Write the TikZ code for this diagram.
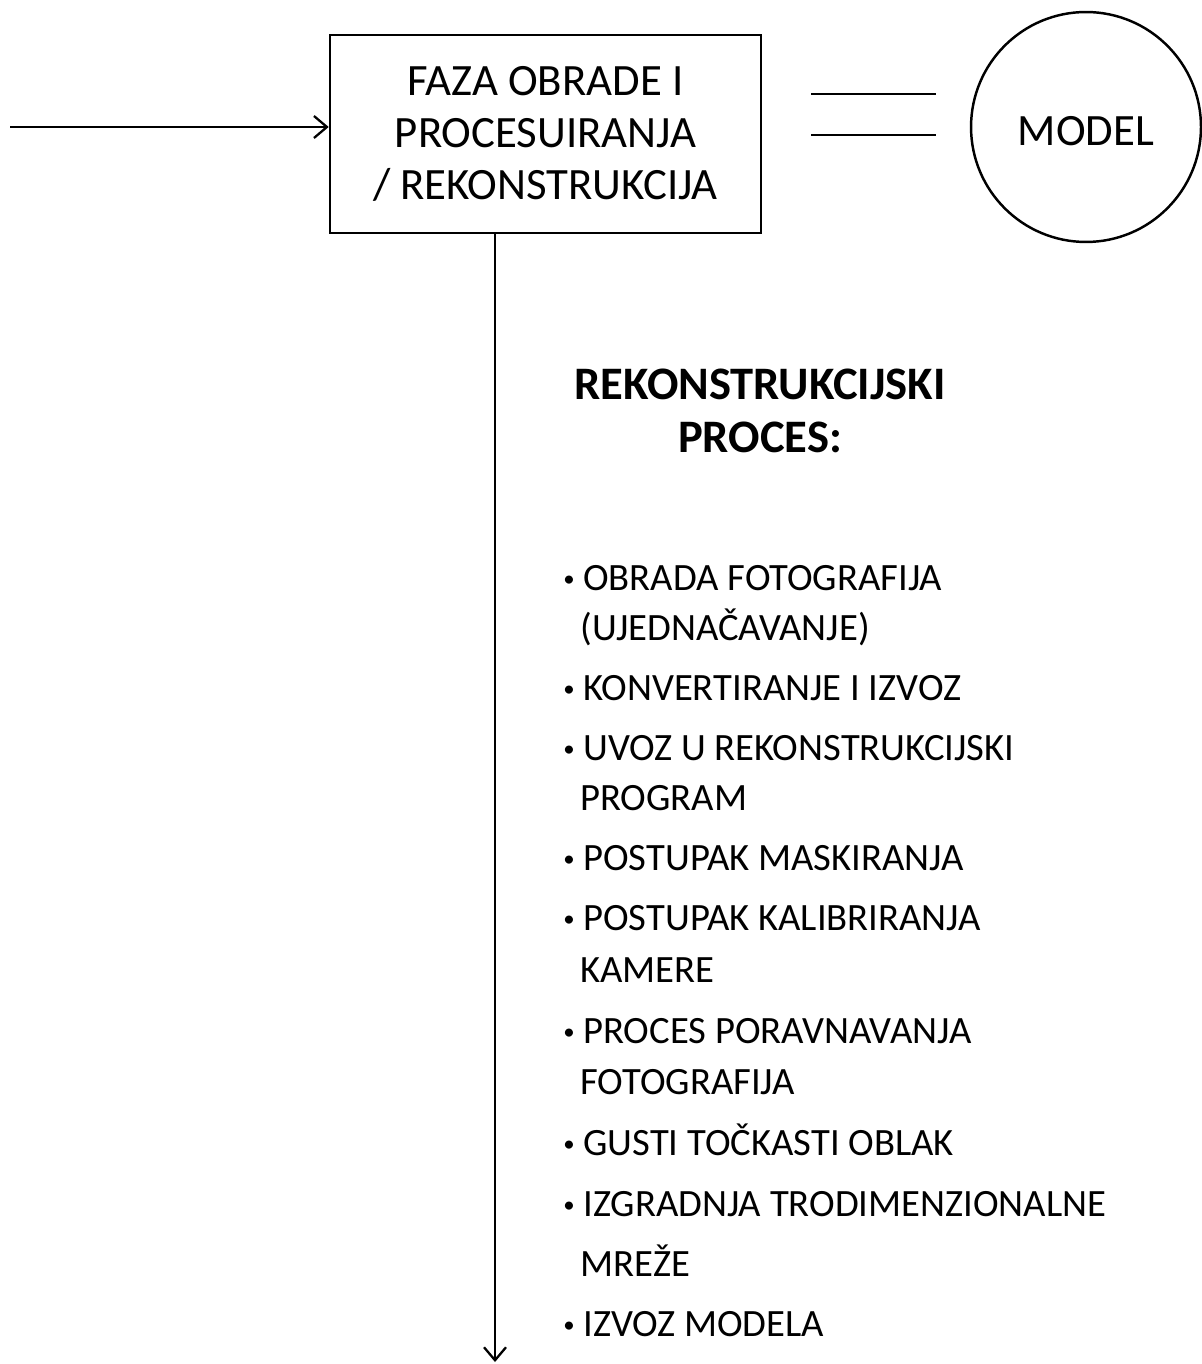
\documentclass[tikz,border=0pt]{standalone}
\usepackage{fontspec}
\setmainfont{Carlito}
\usepackage{tikz}
\usetikzlibrary{positioning,arrows.meta}
\newcommand{\tocka}{\makebox[0.4cm][l]{\raisebox{2.2pt}{\fontsize{13}{13}\selectfont\textbullet}}}
\tikzset{
  phase/.style={rectangle, draw, line width=1.5pt, minimum width=8.62cm, minimum height=3.96cm,
                align=center, font=\fontsize{25.5}{29.6}\selectfont, inner sep=0pt},
  result/.style={circle, draw, line width=1.4pt, minimum size=4.6cm, inner sep=0pt,
                 text height=0.74cm, text depth=0pt, font=\fontsize{25.5}{29.6}\selectfont},
  heading/.style={align=center, font=\fontsize{26.5}{30}\selectfont\bfseries},
  entry/.style={anchor=base west, inner sep=0pt, font=\fontsize{22}{26}\selectfont},
  flow/.style={-{Straight Barb[length=2.6mm,width=4.4mm,line width=1.3pt]}, line width=1.3pt},
  eqline/.style={line width=1.3pt}
}
\begin{document}
\begin{tikzpicture}[x=0.02cm,y=-0.02cm]
\useasboundingbox (0,0) rectangle (1201,1364);
% main phase and the result
\node[phase] (faza) at (545.5,134) {FAZA OBRADE I\\PROCESUIRANJA\\/ REKONSTRUKCIJA};
\node[result] (model) at (1086,127) {MODEL};
\coordinate (ulaz) at (10,127);
\coordinate (izlaz) at (495,1362);
\draw[flow] (ulaz) -- (ulaz -| faza.west);
\draw[flow] (faza.south -| izlaz) -- (izlaz);
% equals sign
\coordinate (eqA) at (811,94);
\coordinate (eqB) at (811,135);
\draw[eqline] (eqA) -- ++(125,0);
\draw[eqline] (eqB) -- ++(125,0);
% reconstruction process
\node[heading] (naslov) at (760,411) {REKONSTRUKCIJSKI\\PROCES:};
\foreach \y/\t [count=\n] in {590/OBRADA FOTOGRAFIJA, 700/KONVERTIRANJE I IZVOZ,
    760/UVOZ U REKONSTRUKCIJSKI, 870/POSTUPAK MASKIRANJA, 930/POSTUPAK KALIBRIRANJA,
    1043/PROCES PORAVNAVANJA, 1155/GUSTI TOČKASTI OBLAK, 1216/IZGRADNJA TRODIMENZIONALNE,
    1336/IZVOZ MODELA}
  \node[entry] (stavka\n) at (563,\y) {\tocka\t};
\foreach \y/\t [count=\n] in {640/(UJEDNAČAVANJE), 810/PROGRAM, 982/KAMERE,
    1094/FOTOGRAFIJA, 1276/MREŽE}
  \node[entry] (nastavak\n) at (580,\y) {\t};
\end{tikzpicture}
\end{document}
